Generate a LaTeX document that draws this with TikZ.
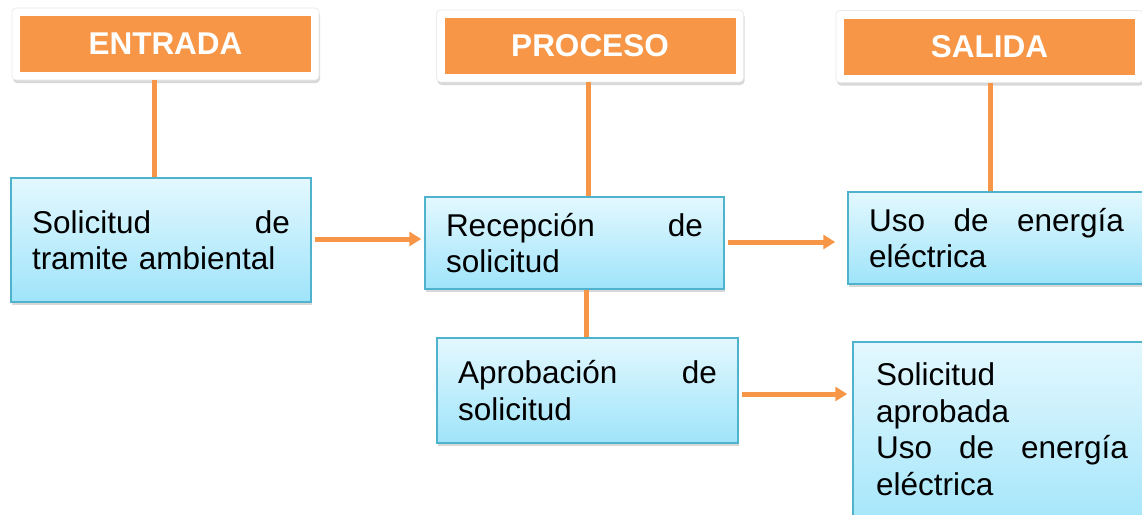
\documentclass[tikz,border=0pt]{standalone}
\usepackage{fontspec}
\setmainfont{Liberation Sans}
\usetikzlibrary{shadows,arrows.meta,calc}
\definecolor{orng}{HTML}{F79646}
\definecolor{boxtop}{HTML}{E3F8FE}
\definecolor{boxbot}{HTML}{9FE4FA}
\definecolor{boxline}{HTML}{4FB3CD}
\tikzset{
  frame/.style={fill=white, draw=black!8, line width=0.8pt, rounded corners=4pt, minimum width=307pt, minimum height=72pt, inner sep=0pt,
    drop shadow={shadow xshift=1pt, shadow yshift=-3pt, opacity=0.3}},
  head/.style={fill=orng, minimum width=291pt, minimum height=56pt, inner sep=0pt, text=white,
    font=\fontsize{31.5}{36.5}\selectfont\bfseries},
  procbox/.style={draw=boxline, line width=1.5pt, top color=boxtop, bottom color=boxbot,
    inner xsep=21pt, align=left, font=\fontsize{31.5}{36.5}\selectfont,
    drop shadow={shadow xshift=1pt, shadow yshift=-3pt, opacity=0.3}},
  link/.style={draw=orng, line width=5pt},
  arr/.style={link, -{Triangle[length=12pt,width=14pt]}},
}
\begin{document}
\begin{tikzpicture}[x=1pt,y=-1pt]
\useasboundingbox (0,0) rectangle (1142,514);
\clip (0,0) rectangle (1142,514);
\fill[white] (0,0) rectangle (1142,514);

% headers
\node[frame] (fE) at (165.5,44) {};
\node[head] (hE) at (fE.center) {ENTRADA};
\node[frame] (fP) at (590,46) {};
\node[head] (hP) at (fP.center) {PROCESO};
\node[frame] (fS) at (989.5,46.5) {};
\node[head] (hS) at (fS.center) {SALIDA};

% boxes
\node[procbox, text width=258pt, minimum width=300pt, minimum height=124pt] (b1) at (161,240)
  {Solicitud\hfill de\\tramite ambiental};
\node[procbox, text width=257pt, minimum width=299pt, minimum height=92pt] (b2) at (574.5,243)
  {Recepción\hfill de\\solicitud};
\node[procbox, text width=255pt, minimum width=297pt, minimum height=92pt] (b3) at (996.5,238)
  {Uso\hfill de\hfill energía\\eléctrica};
\node[procbox, text width=259pt, minimum width=301pt, minimum height=105pt] (b4) at (587.5,390.5)
  {Aprobación\hfill de\\solicitud};
\node[procbox, text width=252pt, inner xsep=23pt, inner ysep=20pt, text height=24pt, text depth=135pt,
  anchor=north] (b5) at (1002,341)
  {Solicitud\\aprobada\\Uso\hfill de\hfill energía\\eléctrica};

% connectors
\draw[link] ([xshift=-11.5pt]fE.south) -- ([xshift=-11.5pt]fE.south |- b1.north);
\draw[link] ([xshift=-1.5pt]fP.south) -- ([xshift=-1.5pt]fP.south |- b2.north);
\draw[link] ([xshift=0.5pt]fS.south) -- ([xshift=0.5pt]fS.south |- b3.north);
\draw[link] ([xshift=11.5pt]b2.south) -- ([xshift=11.5pt]b2.south |- b4.north);

\draw[arr, shorten <=3pt, shorten >=3pt] ([yshift=1pt]b1.east) -- ([yshift=1pt]b1.east -| b2.west);
\draw[arr, shorten <=3pt, shorten >=12pt] ([yshift=1pt]b2.east) -- ([yshift=1pt]b2.east -| b3.west);
\draw[arr, shorten <=3pt, shorten >=5pt] ([yshift=-3.5pt]b4.east) -- ([yshift=-3.5pt]b4.east -| b5.west);
\end{tikzpicture}
\end{document}
